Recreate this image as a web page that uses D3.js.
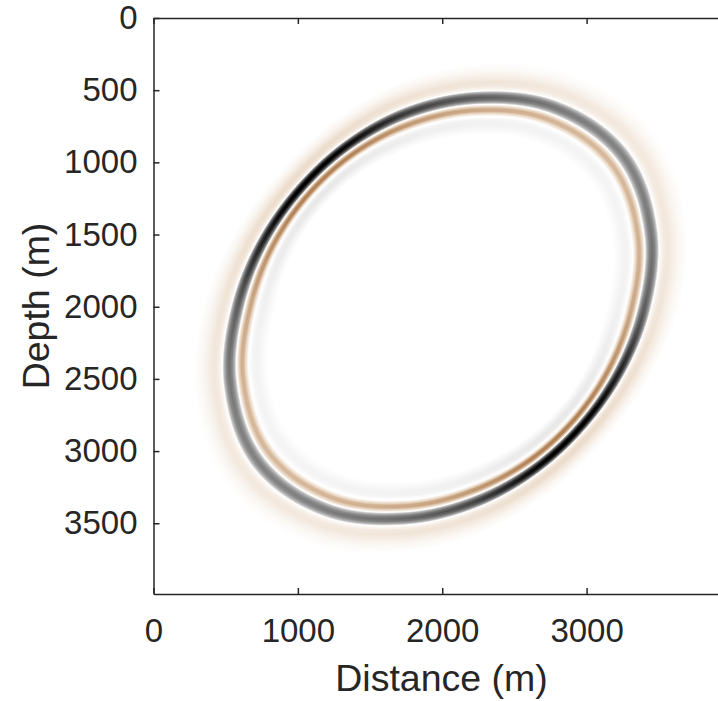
<!DOCTYPE html>
<html>
<head>
<meta charset="utf-8">
<script src="https://cdnjs.cloudflare.com/ajax/libs/d3/7.8.5/d3.min.js"></script>
<style>
body { margin: 0; background: #fff; }
svg { display: block; font-family: "Liberation Sans", Arial, sans-serif; }
</style>
</head>
<body>
<div id="chart"></div>
<script>
// wavefront snapshot, values
var frontCentre = [1990, 2010];   // distance, depth (m)
// main (black) front: angle on screen (deg, 0 = right, 90 = down) -> radius (m)
var frontAngle  = [0, 20, 40, 60, 80, 100, 120, 140, 160, 180, 200, 220, 240, 260, 280, 300, 320, 340];
var frontRadius = [1409, 1312, 1271, 1291, 1363, 1479, 1608, 1653, 1550, 1409, 1316, 1277, 1299, 1371, 1479, 1600, 1645, 1548];
var frontAmp    = [0.62, 0.85, 1.0, 0.95, 0.72, 0.58, 0.5, 0.48, 0.52, 0.62, 0.85, 1.0, 0.95, 0.75, 0.62, 0.52, 0.48, 0.52];
var trailAmp    = [0.75, 0.9, 1.0, 0.97, 0.84, 0.74, 0.67, 0.64, 0.68, 0.75, 0.9, 1.0, 0.97, 0.84, 0.74, 0.67, 0.64, 0.68];
var frontWidth  = [1.3, 1.1, 1.0, 1.05, 1.2, 1.3, 1.4, 1.45, 1.4, 1.3, 1.1, 1.0, 1.05, 1.2, 1.3, 1.4, 1.45, 1.4];
// wavelet across the front: offset (m, + = outward) -> amplitude
var waveOffset = [-200, -170, -145, -125, -108, -100, -90, -75, -62, -50, -40, -36, -28, -14, 0, 14, 28, 36, 44, 62, 85, 110, 145, 185];
var waveAmp    = [0, -0.05, -0.09, -0.08, -0.02, 0, 0.24, 0.6, 0.63, 0.4, 0.06, 0, -0.5, -0.9, -1.05, -0.9, -0.5, 0, 0.07, 0.2, 0.23, 0.15, 0.06, 0];

var xTicks = [0, 1000, 2000, 3000];
var yTicks = [0, 500, 1000, 1500, 2000, 2500, 3000, 3500];

var W = 718, H = 701;
var x = d3.scaleLinear().domain([0, 3990]).range([153.5, 729.5]);
var y = d3.scaleLinear().domain([0, 3990]).range([18, 594]);

var svg = d3.select("#chart").append("svg")
    .attr("width", W)
    .attr("height", H);

// periodic catmull-rom through values at evenly spaced angles
function around(values) {
  var n = values.length, step = frontAngle[1] - frontAngle[0];
  return function(deg) {
    var t = deg / step, i = Math.floor(t), f = t - i;
    var p0 = values[(i - 1 + n) % n], p1 = values[i % n],
        p2 = values[(i + 1) % n], p3 = values[(i + 2) % n];
    return 0.5 * (2 * p1 + (p2 - p0) * f + (2 * p0 - 5 * p1 + 4 * p2 - p3) * f * f +
      (3 * p1 - p0 - 3 * p2 + p3) * f * f * f);
  };
}
var radiusAt = around(frontRadius), ampAt = around(frontAmp),
    trailAt = around(trailAmp), widthAt = around(frontWidth);
var wave = d3.scaleLinear().domain(waveOffset).range(waveAmp).clamp(true);

var colour = d3.scaleLinear().domain([-1, 0, 0.3, 0.6, 1])
    .range(["#000000", "#ffffff", "#e6d1bb", "#b3845a", "#7d4a1e"]).clamp(true);
var lut = d3.range(513).map(function(k) {
  var c = d3.rgb(colour(k / 256 - 1));
  return [c.r, c.g, c.b];
});

// raster of the wavefield
var x0 = 154, y0 = 18, nx = 576, ny = 576;
var canvas = document.createElement("canvas");
canvas.width = nx; canvas.height = ny;
var ctx = canvas.getContext("2d");
var img = ctx.createImageData(nx, ny);
for (var j = 0; j < ny; j++) {
  var dz = y.invert(y0 + j + 0.5) - frontCentre[1];
  for (var i = 0; i < nx; i++) {
    var dx = x.invert(x0 + i + 0.5) - frontCentre[0];
    var ang = Math.atan2(dz, dx) * 180 / Math.PI;
    if (ang < 0) ang += 360;
    var R = Math.sqrt(dx * dx + dz * dz);
    var v = wave((R - radiusAt(ang)) / widthAt(ang));
    v *= v > 0 ? trailAt(ang) : ampAt(ang);
    v = Math.max(-1, Math.min(1, v));
    var c = lut[Math.round((v + 1) * 256)];
    var p = (j * nx + i) * 4;
    img.data[p] = c[0]; img.data[p + 1] = c[1]; img.data[p + 2] = c[2]; img.data[p + 3] = 255;
  }
}
ctx.putImageData(img, 0, 0);

svg.append("image")
    .attr("x", x0).attr("y", y0)
    .attr("width", nx).attr("height", ny)
    .attr("href", canvas.toDataURL());

// axes, MATLAB style box with inward ticks
var ink = "#262626";
var axB = svg.append("g")
    .attr("transform", "translate(0," + y(3990) + ")")
    .call(d3.axisBottom(x).tickValues(xTicks).tickFormat(d3.format("d"))
      .tickSizeInner(-6).tickSizeOuter(0).tickPadding(25));
var axT = svg.append("g")
    .attr("transform", "translate(0," + y(0) + ")")
    .call(d3.axisTop(x).tickValues(xTicks).tickSizeInner(-6).tickSizeOuter(0).tickFormat(""));
var axL = svg.append("g")
    .attr("transform", "translate(" + x(0) + ",0)")
    .call(d3.axisLeft(y).tickValues(yTicks).tickFormat(d3.format("d"))
      .tickSizeInner(-6).tickSizeOuter(0).tickPadding(16));
[axB, axT, axL].forEach(function(a) {
  a.select(".domain").attr("stroke", ink).attr("stroke-width", 1.5);
  a.selectAll(".tick line").attr("stroke", ink).attr("stroke-width", 1.5);
  a.selectAll(".tick text")
      .attr("fill", ink)
      .attr("font-size", 33)
      .attr("font-family", "Liberation Sans, Arial, sans-serif");
});

svg.append("text")
    .attr("x", (x(0) + x(3990)) / 2)
    .attr("y", 691)
    .attr("text-anchor", "middle")
    .attr("font-size", 37.5)
    .attr("fill", ink)
    .text("Distance (m)");

svg.append("text")
    .attr("transform", "translate(49," + (y(0) + y(3990)) / 2 + ") rotate(-90)")
    .attr("text-anchor", "middle")
    .attr("font-size", 37.5)
    .attr("fill", ink)
    .text("Depth (m)");
</script>
</body>
</html>
